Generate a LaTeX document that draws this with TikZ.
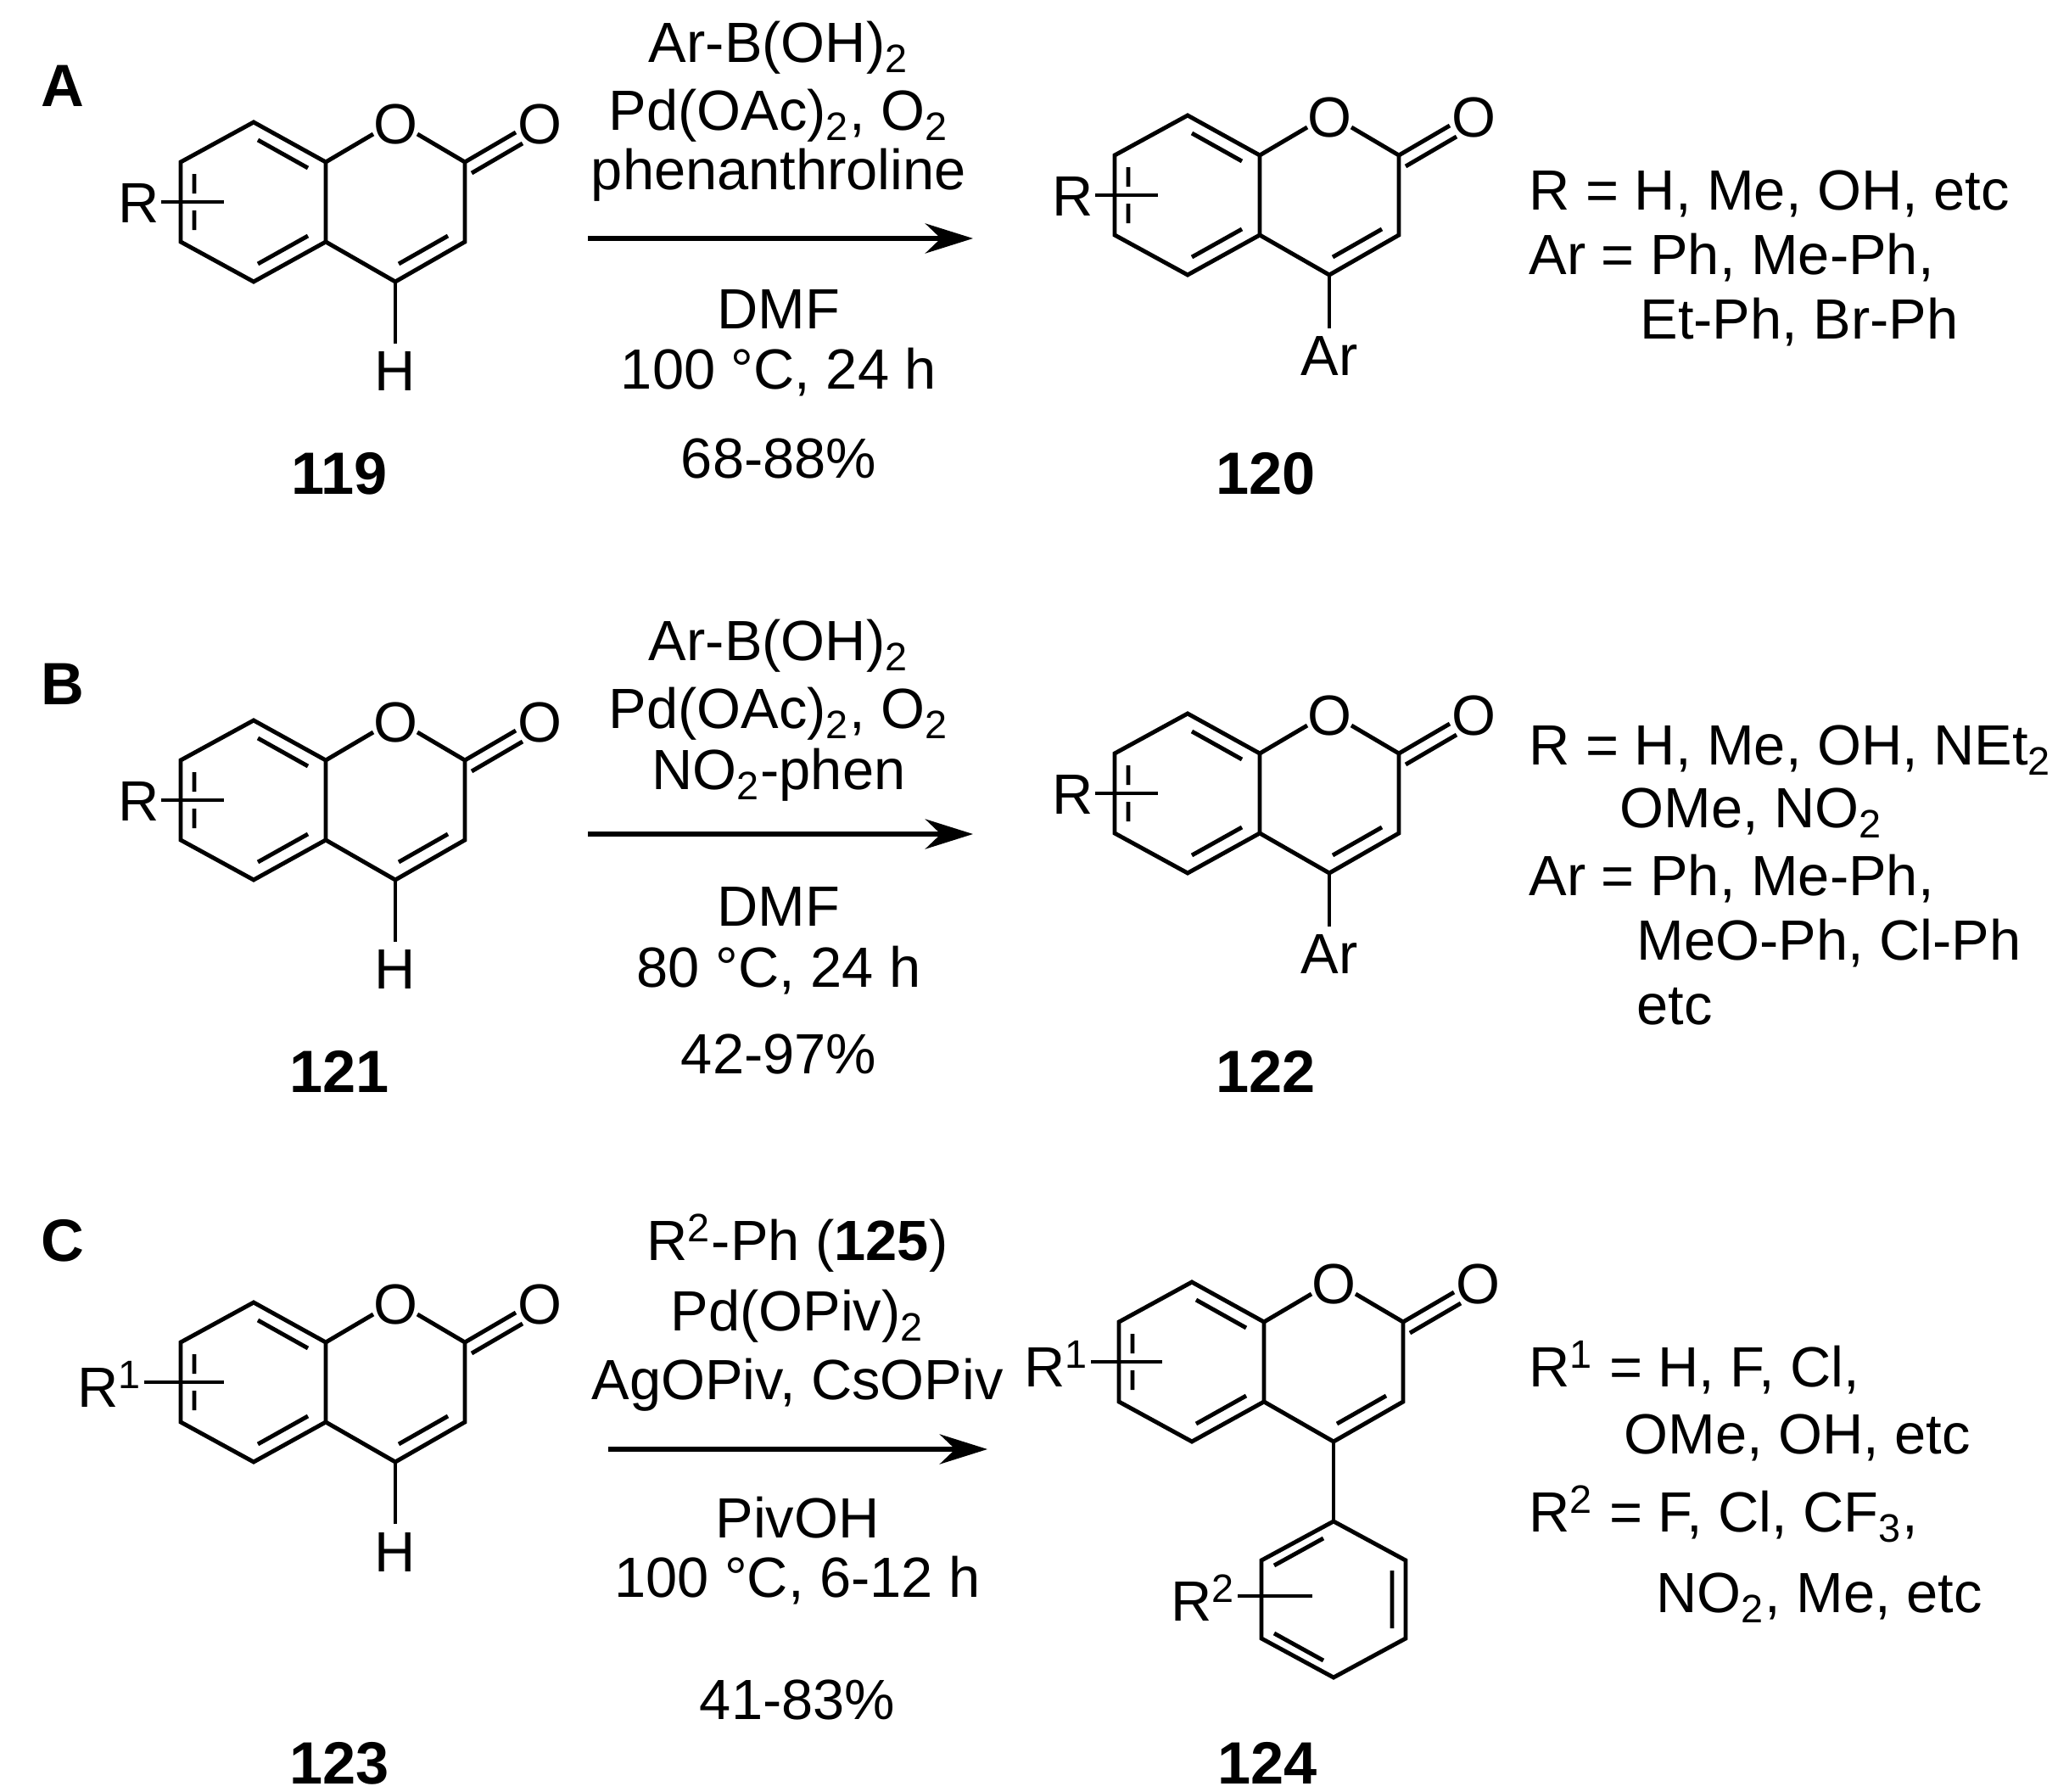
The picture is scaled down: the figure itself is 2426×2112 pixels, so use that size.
\documentclass[tikz,border=0pt]{standalone}
\usepackage{fontspec}
\usetikzlibrary{arrows.meta}
\setmainfont{Liberation Sans}
\begin{document}
\begin{tikzpicture}[x=0.01cm,y=-0.01cm,line width=1.4pt,
  t/.style={font=\fontsize{19}{23}\selectfont,inner sep=0pt},
  lb/.style={font=\fontsize{20}{24}\selectfont\bfseries,inner sep=0pt},
  rt/.style={t,anchor=west},
  bnd/.style={line width=1.4pt},
  arr/.style={line width=1.5pt,-{Stealth[length=16pt,width=10pt]}}]
\useasboundingbox (0,0) rectangle (2426,2112);
% coumarin core macro
\newcommand{\mycoum}[2]{%
 \draw[bnd] (213,191)--(299,144)--(384,191)--(384,285)--(299,332)--(213,285)--cycle;
 \draw[bnd] (304,165)--(363,198) (304,311)--(363,278) (229,205)--(229,228) (229,248)--(229,271);
 \draw[bnd] (384,191)--(440,158) (492,158)--(548,191)--(548,285)--(466,332)--(384,285);
 \draw[bnd] (528,278)--(470,311);
 \draw[bnd] (548,191)--(608,156) (556,204)--(616,169);
 \node[t] at (466,146) {O};
 \node[t] at (636,146) {O};
 \draw[bnd] (#2,238)--(264,238);
 \node[t,anchor=east] at (#2,240) {#1};
}
% ---- A
\node[lb] (lA) at (74,101) {A};
\begin{scope}[shift={(0,0)}]
 \mycoum{R}{190}
 \draw[bnd] (466,332)--(466,405); \node[t] (hA) at (466,438) {H};
\end{scope}
\node[lb] (c119) at (400,558) {119};
\begin{scope}[shift={(1101,-8)}]
 \mycoum{R}{190}
 \draw[bnd] (466,332)--(466,395); \node[t] at (466,428) {Ar};
\end{scope}
\node[lb] (c120) at (1492,558) {120};
\node[t] (a1) at (918,56) {Ar-B(OH)\textsubscript{2}};
\node[t] (a2) at (918,136) {Pd(OAc)\textsubscript{2}, O\textsubscript{2}};
\node[t] (a3) at (918,206) {phenanthroline};
\coordinate (aS) at (693,281); \coordinate (aE) at (1147,281);
\draw[arr] (aS)--(aE);
\node[t] (a4) at (918,365) {DMF};
\node[t] (a5) at (918,439) {100 °C, 24 h};
\node[t] (a6) at (918,540) {68-88\%};
\node[rt] (rA1) at (1800,228) {R = H, Me, OH, etc};
\node[rt] (rA2) at (1800,304) {Ar = Ph, Me-Ph,};
\node[rt] (rA3) at (1931,380) {Et-Ph, Br-Ph};
% ---- B
\node[lb] (lB) at (74,806) {B};
\begin{scope}[shift={(0,705)}]
 \mycoum{R}{190}
 \draw[bnd] (466,332)--(466,405); \node[t] at (466,438) {H};
\end{scope}
\node[lb] (c121) at (400,1263) {121};
\begin{scope}[shift={(1101,697)}]
 \mycoum{R}{190}
 \draw[bnd] (466,332)--(466,395); \node[t] at (466,428) {Ar};
\end{scope}
\node[lb] (c122) at (1492,1263) {122};
\node[t] (b1) at (918,761) {Ar-B(OH)\textsubscript{2}};
\node[t] (b2) at (918,841) {Pd(OAc)\textsubscript{2}, O\textsubscript{2}};
\node[t] (b3) at (918,913) {NO\textsubscript{2}-phen};
\coordinate (bS) at (693,983); \coordinate (bE) at (1147,983);
\draw[arr] (bS)--(bE);
\node[t] (b4) at (918,1069) {DMF};
\node[t] (b5) at (918,1144) {80 °C, 24 h};
\node[t] (b6) at (918,1242) {42-97\%};
\node[rt] (rB1) at (1800,884) {R = H, Me, OH, NEt\textsubscript{2}};
\node[rt] (rB2) at (1907,958) {OMe, NO\textsubscript{2}};
\node[rt] (rB3) at (1800,1036) {Ar = Ph, Me-Ph,};
\node[rt] (rB4) at (1927,1112) {MeO-Ph, Cl-Ph};
\node[rt] (rB5) at (1927,1186) {etc};
% ---- C
\node[lb] (lC) at (74,1462) {C};
\begin{scope}[shift={(0,1391)}]
 \mycoum{R\textsuperscript{1}}{170}
 \draw[bnd] (466,332)--(466,405); \node[t] at (466,438) {H};
\end{scope}
\node[lb] (c123) at (400,2078) {123};
\begin{scope}[shift={(1106,1367)}]
 \mycoum{R\textsuperscript{1}}{180}
 \draw[bnd] (466,332)--(466,426);
 \draw[bnd] (466,426)--(551,472)--(551,564)--(466,610)--(381,564)--(381,472)--cycle;
 \draw[bnd] (535,484)--(535,552) (454,590)--(396,558) (396,478)--(454,446);
 \draw[bnd] (353,514)--(441,514);
 \node[t,anchor=east] at (353,516) {R\textsuperscript{2}};
\end{scope}
\node[lb] (c124) at (1494,2078) {124};
\node[t] (d1) at (940,1465) {R\textsuperscript{2}-Ph (\textbf{125})};
\node[t] (d2) at (940,1551) {Pd(OPiv)\textsubscript{2}};
\node[t] (d3) at (940,1632) {AgOPiv, CsOPiv};
\coordinate (dS) at (717,1708); \coordinate (dE) at (1164,1708);
\draw[arr] (dS)--(dE);
\node[t] (d4) at (940,1789) {PivOH};
\node[t] (d5) at (940,1863) {100 °C, 6-12 h};
\node[t] (d6) at (940,2003) {41-83\%};
\node[rt] (rC1) at (1800,1612) {R\textsuperscript{1} = H, F, Cl,};
\node[rt] (rC2) at (1912,1694) {OMe, OH, etc};
\node[rt] (rC3) at (1800,1784) {R\textsuperscript{2} = F, Cl, CF\textsubscript{3},};
\node[rt] (rC4) at (1950,1883) {NO\textsubscript{2}, Me, etc};
\end{tikzpicture}
\end{document}
